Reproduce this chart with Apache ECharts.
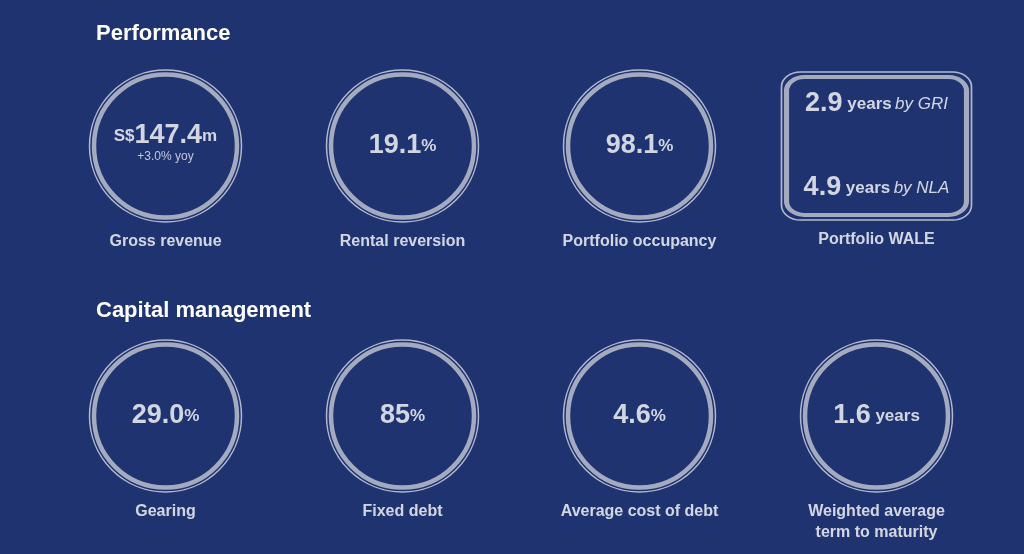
<!DOCTYPE html>
<html><head><meta charset="utf-8">
<script src="https://cdn.jsdelivr.net/npm/echarts@6/dist/echarts.min.js"></script>
<style>html,body{margin:0;padding:0;background:#1f3370}#c{width:1024px;height:554px}</style>
</head><body><div id="c"></div>
<script>
const sections = ['Performance', 'Capital management'];
const captions = ['Gross revenue','Rental reversion','Portfolio occupancy','Portfolio WALE','Gearing','Fixed debt','Average cost of debt','Weighted average\nterm to maturity'];
const prefixes = ['S$','','','','','','',''];
const mainValues = ['147.4','19.1','98.1','2.9','29.0','85','4.6','1.6'];
const units = ['m','%','%',' years','%','%','%',' years'];
const subNotes = ['+3.0% yoy','','','by GRI','','','',''];
const walaSecond = {value:'4.9', unit:' years', note:'by NLA'};
const cols = ['c1','c2','c3','c4'];
const rows = ['r1','r2'];

const boxPath = 'path://M10,0 H90 A10,10 0 0 1 100,10 V90 A10,10 0 0 1 90,100 H10 A10,10 0 0 1 0,90 V10 A10,10 0 0 1 10,0 Z';
const rich = {
  pre:{fontSize:17,fontWeight:'bold',color:'#fff',fontFamily:'Liberation Sans'},
  big:{fontSize:27,fontWeight:'bold',color:'#fff',fontFamily:'Liberation Sans'},
  unit:{fontSize:17,fontWeight:'bold',color:'#fff',fontFamily:'Liberation Sans'},
  sub:{fontSize:12,color:'#e6e9f2',fontFamily:'Liberation Sans',padding:[2,0,0,0]},
  note:{fontSize:17,fontStyle:'italic',color:'#fff',fontFamily:'Liberation Sans'},
  gap:{fontSize:27,lineHeight:64}
};
function valueText(i){
  if(i===3){
    return `{big|${mainValues[i]}}{unit|${units[i]}} {note|${subNotes[i]}}\n{gap| }\n{big|${walaSecond.value}}{unit|${walaSecond.unit}} {note|${walaSecond.note}}`;
  }
  let s = (prefixes[i]?`{pre|${prefixes[i]}}`:'') + `{big|${mainValues[i]}}{unit|${units[i]}}`;
  if(subNotes[i]) s += `\n{sub|${subNotes[i]}}`;
  return s;
}
const outer = [], inner = [];
captions.forEach((c,i)=>{
  const x = cols[i%4], y = rows[Math.floor(i/4)];
  const isBox = i===3;
  outer.push({value:[x,y], name:c, symbol:isBox?boxPath:'circle', symbolSize:isBox?[190,148]:152});
  inner.push({value:[x,y], idx:i, symbol:isBox?boxPath:'circle', symbolSize:isBox?[180,138]:143});
});
const chart = echarts.init(document.getElementById('c'));
chart.setOption({
  backgroundColor:'#1f3370',
  animation:false,
  title:[
    {text:sections[0],left:91,top:18,textStyle:{color:'#fff',fontSize:22,fontWeight:'bold',fontFamily:'Liberation Sans'}},
    {text:sections[1],left:91,top:295,textStyle:{color:'#fff',fontSize:22,fontWeight:'bold',fontFamily:'Liberation Sans'}}
  ],
  grid:{left:47,right:29,top:11,bottom:3},
  xAxis:{type:'category',data:cols,show:false},
  yAxis:{type:'category',data:rows,inverse:true,show:false},
  series:[
    {type:'scatter',data:outer,itemStyle:{color:'rgba(0,0,0,0)',borderColor:'#d8dbe4',borderWidth:1.5},
     label:{show:true,position:'bottom',distance:8,formatter:p=>p.name,color:'#fff',fontSize:16,fontWeight:'bold',fontFamily:'Liberation Sans',lineHeight:21},
     z:2},
    {type:'scatter',data:inner,itemStyle:{color:'rgba(0,0,0,0)',borderColor:'#c5c9d4',borderWidth:4.5},
     label:{show:true,position:'inside',formatter:p=>valueText(p.data.idx),rich:rich,lineHeight:20},
     z:3}
  ]
});
</script></body></html>
